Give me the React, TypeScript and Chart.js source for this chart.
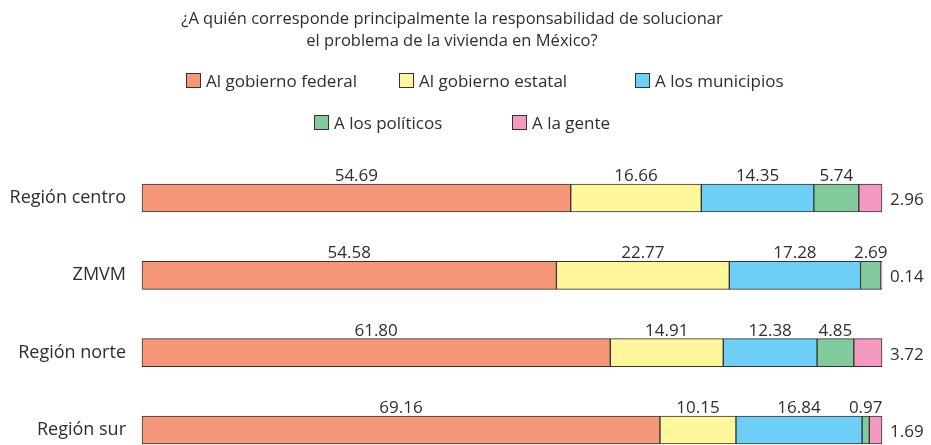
import React, { useEffect, useRef } from "react";
import { Chart, registerables } from "chart.js";

Chart.register(...registerables);

const regions = ["Región centro", "ZMVM", "Región norte", "Región sur"];
const seriesNames = [
  "Al gobierno federal",
  "Al gobierno estatal",
  "A los municipios",
  "A los políticos",
  "A la gente",
];
const federal = [54.69, 54.58, 61.8, 69.16];
const estatal = [16.66, 22.77, 14.91, 10.15];
const municipios = [14.35, 17.28, 12.38, 16.84];
const politicos = [5.74, 2.69, 4.85, 0.97];
const gente = [2.96, 0.14, 3.72, 1.69];
const colors = ["#F7977A", "#FFF799", "#6DCFF6", "#82CA9C", "#F49AC1"];

const TITLE_1 = "¿A quién corresponde principalmente la responsabilidad de solucionar";
const TITLE_2 = "el problema de la vivienda en México?";
const TEXT = "#2e2e2e";
const FONT = "'Open Sans', 'Noto Sans', sans-serif";

const series = [federal, estatal, municipios, politicos, gente];
const totals = regions.map((_, r) => series.reduce((s, arr) => s + arr[r], 0));

const legendItems = [
  { i: 0, left: 186, top: 73 },
  { i: 1, left: 399, top: 73 },
  { i: 2, left: 635, top: 73 },
  { i: 3, left: 314, top: 115 },
  { i: 4, left: 512, top: 115 },
];

const valueLabels = {
  id: "valueLabels",
  afterDatasetsDraw(chart: any) {
    const ctx = chart.ctx;
    ctx.save();
    ctx.fillStyle = TEXT;
    ctx.font = `17px ${FONT}`;
    ctx.textBaseline = "alphabetic";
    chart.data.datasets.forEach((ds: any, di: number) => {
      const meta = chart.getDatasetMeta(di);
      meta.data.forEach((bar: any, idx: number) => {
        const raw = series[di][idx];
        const txt = raw.toFixed(2);
        if (di < series.length - 1) {
          ctx.textAlign = "center";
          ctx.fillText(txt, (bar.x + bar.base) / 2, bar.y - 17);
        } else {
          ctx.textAlign = "left";
          ctx.fillText(txt, bar.x + 8, bar.y + 7);
        }
      });
    });
    ctx.restore();
  },
};

export default function App() {
  const ref = useRef<HTMLCanvasElement>(null);
  useEffect(() => {
    if (!ref.current) return;
    const chart = new Chart(ref.current, {
      type: "bar",
      data: {
        labels: regions,
        datasets: series.map((arr, i) => ({
          label: seriesNames[i],
          data: arr.map((v, r) => (v / totals[r]) * 100),
          backgroundColor: colors[i],
          borderColor: "#333333",
          borderWidth: 1,
          borderSkipped: false,
          barThickness: 28,
          clip: false as any,
        })),
      },
      options: {
        indexAxis: "y",
        responsive: false,
        animation: false,
        layout: { padding: { top: 198, bottom: 15, left: 0, right: 49 } },
        scales: {
          x: { display: false, stacked: true, min: 0, max: 100 },
          y: {
            stacked: true,
            offset: false,
            grid: { display: false, drawTicks: false },
            border: { display: false },
            ticks: {
              color: TEXT,
              font: { family: FONT, size: 18 },
              padding: 16,
            },
            afterFit: (scale: any) => {
              scale.width = 142;
              scale.paddingTop = 0;
              scale.paddingBottom = 0;
            },
          },
        },
        plugins: {
          legend: { display: false },
          tooltip: { enabled: false },
          title: { display: false },
        },
      },
      plugins: [valueLabels],
    });
    return () => chart.destroy();
  }, []);

  return (
    <div
      style={{
        position: "fixed",
        left: 0,
        top: 0,
        width: 931,
        height: 445,
        background: "#ffffff",
        fontFamily: FONT,
        color: TEXT,
        overflow: "hidden",
      }}
    >
      <canvas ref={ref} width={931} height={445} style={{ position: "absolute", left: 0, top: 0, width: 931, height: 445 }} />
      <div
        style={{
          position: "absolute",
          left: 452,
          top: 7,
          transform: "translateX(-50%)",
          textAlign: "center",
          fontSize: 16.5,
          lineHeight: "22px",
          whiteSpace: "nowrap",
        }}
      >
        <div>{TITLE_1}</div>
        <div>{TITLE_2}</div>
      </div>
      {legendItems.map((it) => (
        <div
          key={it.i}
          style={{
            position: "absolute",
            left: it.left,
            top: it.top,
            display: "flex",
            alignItems: "center",
            height: 15,
            whiteSpace: "nowrap",
            fontSize: 17,
          }}
        >
          <span
            style={{
              display: "inline-block",
              width: 13,
              height: 13,
              border: "1px solid #333",
              background: colors[it.i],
              marginRight: 5,
            }}
          />
          <span>{seriesNames[it.i]}</span>
        </div>
      ))}
    </div>
  );
}
